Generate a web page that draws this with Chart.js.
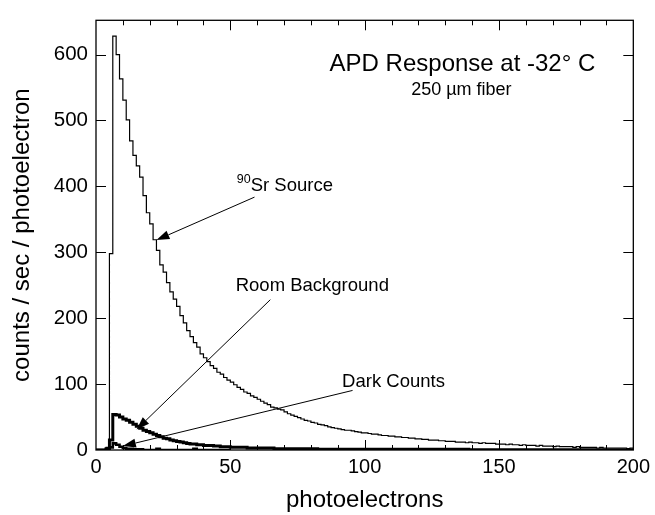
<!DOCTYPE html>
<html lang="en">
<head>
  <meta charset="UTF-8" />
  <title>APD Response</title>
  <script src="https://cdn.jsdelivr.net/npm/chart.js"></script>
  <style>
    body {
      margin: 0;
      background: #ffffff;
      overflow: hidden;
    }
    #chart {
      display: block;
    }
  </style>
</head>
<body>
  <canvas id="chart" width="655" height="515"></canvas>

  <script>
    // histogram bins are 1.25 photoelectrons wide, starting at 0
    const BIN = 1.25;

    const sourceCounts = [
      0, 0, 0, 4, 298, 628, 600, 563, 531, 501,
      469, 447, 431, 414, 386, 360, 343, 319, 303, 281,
      270, 254, 240, 229, 218, 204, 193, 181, 172, 163,
      156, 146, 140, 134, 128, 124, 118, 115, 110, 106,
      103, 99, 95, 92, 88, 86, 82, 80, 77, 74,
      71, 69, 65, 64, 62, 61, 58, 55, 53, 51,
      49, 47, 45, 44, 42, 41, 39, 38, 37, 35,
      34, 33, 32, 31, 30, 30, 29, 28, 27, 26,
      26, 25, 24, 24, 23, 22, 22, 21, 21, 20,
      20, 19, 19, 18, 18, 17, 17, 16, 16, 15,
      15, 15, 14, 14, 13, 13, 13, 12, 12, 12,
      11, 12, 11, 11, 10, 11, 10, 10, 10, 9,
      9, 9, 8, 9, 8, 8, 7, 8, 7, 7,
      7, 6, 7, 6, 6, 6, 5, 6, 5, 5,
      5, 5, 4, 5, 4, 4, 4, 4, 4, 3,
      4, 3, 3, 3, 3, 3, 3, 3, 2, 3
    ];

    const roomCounts = [
      0, 0, 0, 2, 15, 54, 53, 50, 47, 45,
      42, 39, 36, 33, 30, 28, 26, 24, 22, 20,
      18, 17, 15, 14, 13, 12, 11, 10, 9, 9,
      8, 8, 7, 7, 7, 6, 6, 5, 5, 5,
      4, 4, 4, 4, 4, 3, 3, 3, 3, 3,
      3, 3, 3, 2, 2, 2, 2, 2, 2, 2,
      2, 2, 2, 2, 2, 2, 1, 1, 1, 1,
      1, 1, 1, 1, 1, 1, 1, 1, 1, 1,
      1, 1, 1, 1, 1, 1, 1, 1, 1, 1,
      1, 1, 1, 1, 1, 1, 1, 1, 1, 1,
      1, 1, 1, 1, 1, 1, 1, 1, 1, 1,
      1, 0.5, 0.5, 0.5, 0.5, 0.5, 0.5, 0.5, 0.5, 0.5,
      0.5, 0.5, 0.5, 0.5, 0.5, 0.5, 0.5, 0.5, 0.5, 0.5,
      0.5, 0.5, 0.5, 0.5, 0.5, 0.5, 0.5, 0.5, 0.5, 0.5,
      0.5, 0.5, 0.5, 0.5, 0.5, 0.5, 0.5, 0.5, 0.5, 0.5,
      0.5, 0.5, 0.5, 0.5, 0.5, 0.5, 0.5, 0.5, 0.5, 0.5
    ];

    const darkCounts = [
      0, 0, 0, 1, 4, 10, 8, 5, 3, 2,
      2, 1, 1, 1, 0, 0, 0, 0, 2, 0,
      0, 0, 0, 0, 0, 0, 0, 0, 0, 2,
      0, 0, 0, 0, 0, 0, 0, 0, 0, 0
    ];

    const xTicks = [0, 50, 100, 150, 200];
    const yTicks = [0, 100, 200, 300, 400, 500, 600];

    const FONT = "'Liberation Sans', Arial, Helvetica, sans-serif";

    function toPoints(values) {
      const pts = values.map((v, i) => ({ x: i * BIN, y: v }));
      pts.push({ x: values.length * BIN, y: values[values.length - 1] });
      return pts;
    }

    // labels and arrows, placed in data units
    const labels = [
      { text: 'APD Response at -32° C', x: 136.4, y: 575, size: 24, align: 'center' },
      { text: '250 µm fiber', x: 136.0, y: 538, size: 18, align: 'center' },
      { text: 'Room Background', x: 52, y: 241.5, size: 18.5, align: 'left' },
      { text: 'Dark Counts', x: 91.6, y: 96.3, size: 18.5, align: 'left' }
    ];
    const arrows = [
      { from: [59.0, 383.7], to: [22.5, 318.5] },
      { from: [64.9, 228.1], to: [15.1, 31.1] },
      { from: [95.5, 90.4], to: [10.0, 5.9] }
    ];

    const decorations = {
      id: 'decorations',
      afterDatasetsDraw(chart) {
        const { ctx, chartArea: a, scales: { x, y } } = chart;
        ctx.save();
        ctx.strokeStyle = '#000';
        ctx.fillStyle = '#000';

        // frame
        ctx.lineWidth = 1.3;
        ctx.strokeRect(a.left, a.top, a.right - a.left, a.bottom - a.top);

        // inward ticks
        ctx.lineWidth = 1;
        ctx.beginPath();
        for (let v = 10; v < 200; v += 10) {
          const px = Math.round(x.getPixelForValue(v)) + 0.5;
          const len = v % 50 === 0 ? 10 : 5;
          ctx.moveTo(px, a.bottom); ctx.lineTo(px, a.bottom - len);
          ctx.moveTo(px, a.top); ctx.lineTo(px, a.top + len);
        }
        for (let v = 100; v <= 600; v += 100) {
          const py = Math.round(y.getPixelForValue(v)) + 0.5;
          ctx.moveTo(a.left, py); ctx.lineTo(a.left + 10, py);
          ctx.moveTo(a.right, py); ctx.lineTo(a.right - 10, py);
        }
        ctx.stroke();

        // text
        ctx.textBaseline = 'alphabetic';
        for (const l of labels) {
          ctx.font = `${l.size}px ${FONT}`;
          ctx.textAlign = l.align;
          ctx.fillText(l.text, x.getPixelForValue(l.x), y.getPixelForValue(l.y));
        }
        // 90Sr with superscript
        let sx = x.getPixelForValue(52.4);
        const sy = y.getPixelForValue(392.6);
        ctx.textAlign = 'left';
        ctx.font = `12.5px ${FONT}`;
        ctx.fillText('90', sx, sy - 8);
        sx += ctx.measureText('90').width;
        ctx.font = `18.5px ${FONT}`;
        ctx.fillText('Sr Source', sx, sy);

        // arrows
        ctx.lineWidth = 1;
        for (const ar of arrows) {
          const x0 = x.getPixelForValue(ar.from[0]), y0 = y.getPixelForValue(ar.from[1]);
          const x1 = x.getPixelForValue(ar.to[0]), y1 = y.getPixelForValue(ar.to[1]);
          const ang = Math.atan2(y1 - y0, x1 - x0);
          const hl = 13, hw = 4.5;
          const bx = x1 - hl * Math.cos(ang), by = y1 - hl * Math.sin(ang);
          ctx.beginPath();
          ctx.moveTo(x0, y0);
          ctx.lineTo(bx, by);
          ctx.stroke();
          ctx.beginPath();
          ctx.moveTo(x1, y1);
          ctx.lineTo(bx + hw * Math.sin(ang), by - hw * Math.cos(ang));
          ctx.lineTo(bx - hw * Math.sin(ang), by + hw * Math.cos(ang));
          ctx.closePath();
          ctx.fill();
        }
        ctx.restore();
      }
    };

    new Chart(document.getElementById('chart'), {
      type: 'line',
      data: {
        datasets: [
          { label: 'Sr Source', data: toPoints(sourceCounts), borderColor: '#000', borderWidth: 1.2 },
          { label: 'Dark Counts', data: toPoints(darkCounts), borderColor: '#000', borderWidth: 2.6 },
          { label: 'Room Background', data: toPoints(roomCounts), borderColor: '#000', borderWidth: 3 }
        ]
      },
      options: {
        responsive: false,
        devicePixelRatio: 1,
        animation: false,
        events: [],
        layout: { padding: { left: 0, right: 17, top: 10, bottom: 0 } },
        elements: {
          point: { radius: 0 },
          line: { stepped: true, fill: false, tension: 0, borderJoinStyle: 'miter' }
        },
        plugins: {
          legend: { display: false },
          tooltip: { enabled: false }
        },
        scales: {
          x: {
            type: 'linear',
            min: 0,
            max: 200,
            grid: { display: false, drawTicks: false },
            border: { display: false },
            afterBuildTicks: s => { s.ticks = xTicks.map(v => ({ value: v })); },
            afterFit: s => { s.height = 65; },
            ticks: { color: '#000', padding: 5, maxRotation: 0, font: { family: FONT, size: 20 } },
            title: {
              display: true,
              text: 'photoelectrons',
              color: '#000',
              padding: { top: 8, bottom: 0 },
              font: { family: FONT, size: 24 }
            }
          },
          y: {
            type: 'linear',
            min: 0,
            max: 652,
            grid: { display: false, drawTicks: false },
            border: { display: false },
            afterBuildTicks: s => { s.ticks = yTicks.map(v => ({ value: v })); },
            afterFit: s => { s.width = 96; },
            ticks: { color: '#000', padding: 8, font: { family: FONT, size: 20.5 } },
            title: {
              display: true,
              text: 'counts / sec / photoelectron',
              color: '#000',
              padding: { top: 8, bottom: 0 },
              font: { family: FONT, size: 24 }
            }
          }
        }
      },
      plugins: [decorations]
    });
  </script>
</body>
</html>
